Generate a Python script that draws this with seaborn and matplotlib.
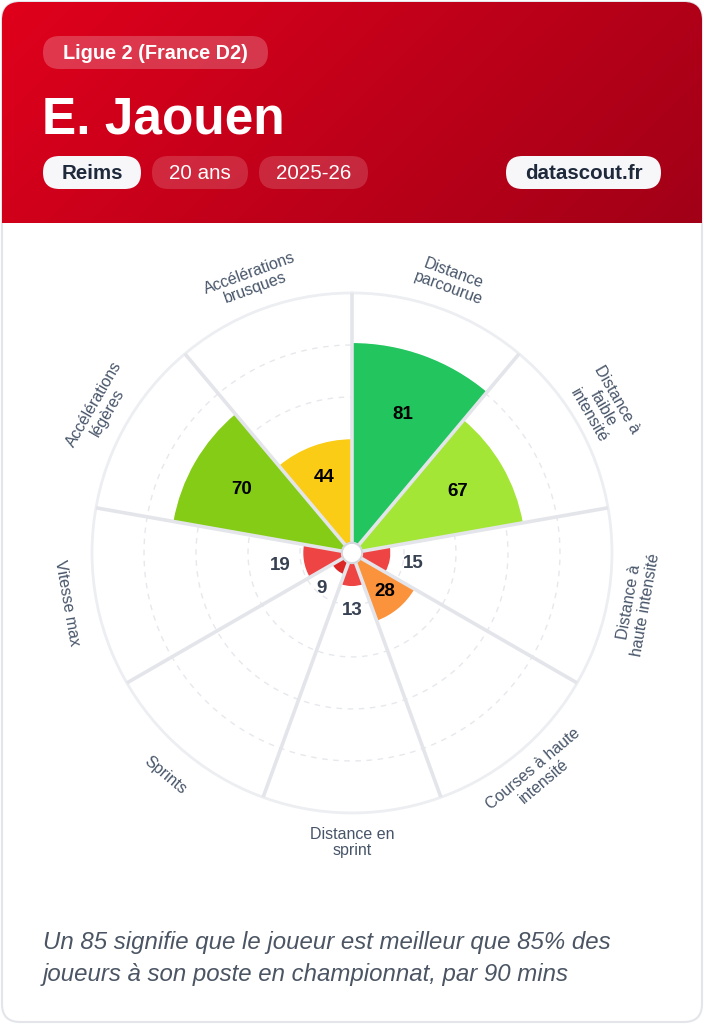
import numpy as np
import matplotlib.pyplot as plt
import matplotlib.colors as mcolors
import seaborn as sns
from matplotlib.patches import FancyBboxPatch

# header info
league = "Ligue 2 (France D2)"
player = "E. Jaouen"
club = "Reims"
age = "20 ans"
season = "2025-26"
site = "datascout.fr"

# pizza data, clockwise from 12 o'clock
categories = ["Distance\nparcourue", "Distance à\nfaible\nintensité", "Distance à\nhaute intensité",
              "Courses à haute\nintensité", "Distance en\nsprint", "Sprints", "Vitesse max",
              "Accélérations\nlégères", "Accélérations\nbrusques"]
percentiles = [81, 67, 15, 28, 13, 9, 19, 70, 44]

footnote = ["Un 85 signifie que le joueur est meilleur que 85% des",
            "joueurs à son poste en championnat, par 90 mins"]

# colour tiers (lower bound -> colour)
tier_bounds = [80, 70, 55, 40, 25, 10, 0]
tier_palette = sns.color_palette(["#22c55e", "#84cc16", "#a3e635", "#facc15",
                                  "#fb923c", "#ef4444", "#dc2626"])


def tier_color(v):
    for b, c in zip(tier_bounds, tier_palette):
        if v >= b:
            return c
    return tier_palette[-1]


sns.set_theme(style="white")
plt.rcParams['font.family'] = ['Liberation Sans', 'DejaVu Sans']

fig = plt.figure(figsize=(7.04, 10.24), dpi=100)
fig.patch.set_facecolor("white")

# background axes in pixel units
bg = fig.add_axes([0, 0, 1, 1])
bg.axis('off')

card = FancyBboxPatch((2, 2), 700, 1020, boxstyle="round,pad=0,rounding_size=18",
                      fc="white", ec="#e3e5ea", lw=1.5, zorder=0)
bg.add_patch(card)

# red gradient header
gx, gy = np.meshgrid(np.linspace(0, 1, 400), np.linspace(0, 1, 130))
t = (gx * 704 + gy * 222) / (704 + 222)
c0 = np.array(mcolors.to_rgb("#e0001c"))
c1 = np.array(mcolors.to_rgb("#a10017"))
img = c0 + (c1 - c0) * t[..., None]
im = bg.imshow(img, extent=(2, 702, 223, 2), origin='upper', aspect='auto', zorder=1)
clip = FancyBboxPatch((2, 2), 700, 300, boxstyle="round,pad=0,rounding_size=18",
                      fc='none', ec='none')
bg.add_patch(clip)
im.set_clip_path(clip)


def pill(x0, x1, yc, text, fc, tc, weight, alpha=1.0, size=14.8):
    h = 33
    bg.add_patch(FancyBboxPatch((x0, yc - h / 2), x1 - x0, h,
                                boxstyle=f"round,pad=0,rounding_size={h / 2}",
                                fc=fc, ec='none', alpha=alpha, zorder=3))
    bg.text((x0 + x1) / 2, yc + 1, text, ha='center', va='center', color=tc,
            fontsize=size, fontweight=weight, zorder=4)


pill(43, 268, 52.5, league, "white", "white", "bold", alpha=0.22, size=14.3)
bg.text(42, 133, player, color="white", fontsize=37, fontweight="bold", va="baseline", zorder=4)
pill(43, 141, 172.5, club, "#f7f7fa", "#1e293b", "bold")
pill(152, 248, 172.5, age, "white", "white", "normal", alpha=0.16)
pill(259, 368, 172.5, season, "white", "white", "normal", alpha=0.16)
pill(506, 661, 172.5, site, "#f7f7fa", "#1e293b", "bold")

for i, line in enumerate(footnote):
    bg.text(43, 943 + i * 32, line, style="italic", fontsize=17.3, color="#4b5563",
            va="center", ha="left")

bg.set_xlim(0, 704)
bg.set_ylim(1024, 0)

# polar pizza
ax = fig.add_axes([0.1307, 0.2061, 0.7386, 0.5078], projection='polar')
ax.set_theta_zero_location('N')
ax.set_theta_direction(-1)
ax.set_facecolor('none')
ax.grid(False)
ax.set_xticks([])
ax.set_yticks([])
ax.set_ylim(0, 100)
ax.spines['polar'].set_color('#eceef2')
ax.spines['polar'].set_linewidth(2)

n = len(categories)
width = 2 * np.pi / n
edges = np.arange(n) * width
centers = edges + width / 2
colors = [tier_color(v) for v in percentiles]

full = np.linspace(0, 2 * np.pi, 361)
for r in [20, 40, 60, 80]:
    ax.plot(full, np.full_like(full, r), color='#e6e8ec', lw=1, ls=(0, (4, 4)), zorder=1)

ax.bar(edges, percentiles, width=width, align='edge', color=colors,
       edgecolor='white', linewidth=1, zorder=2)

for e in edges:
    ax.plot([e, e], [0, 100], color='#e3e5ea', lw=2.6, zorder=3, solid_capstyle='butt')

ax.fill(full, np.full_like(full, 3.9), color='white', zorder=4)
ax.plot(full, np.full_like(full, 3.9), color='#d4d7dd', lw=1.5, zorder=5)

for c, v in zip(centers, percentiles):
    if v >= 25:
        ax.text(c, 0.7 * v, str(v), ha='center', va='center', fontsize=13.5,
                fontweight='bold', color='black', zorder=6)
    else:
        ax.text(c, v + 9, str(v), ha='center', va='center', fontsize=13.5,
                fontweight='bold', color='#374151', zorder=6)

for c, lab in zip(centers, categories):
    a = np.degrees(c)
    rot = 180 - a if 90 < a < 270 else -a
    ax.text(c, 111.5, lab, rotation=rot, rotation_mode='anchor', ha='center', va='center',
            fontsize=11.5, color='#475569', linespacing=1.1, clip_on=False)

fig.savefig("out.png", dpi=100, facecolor="white")
